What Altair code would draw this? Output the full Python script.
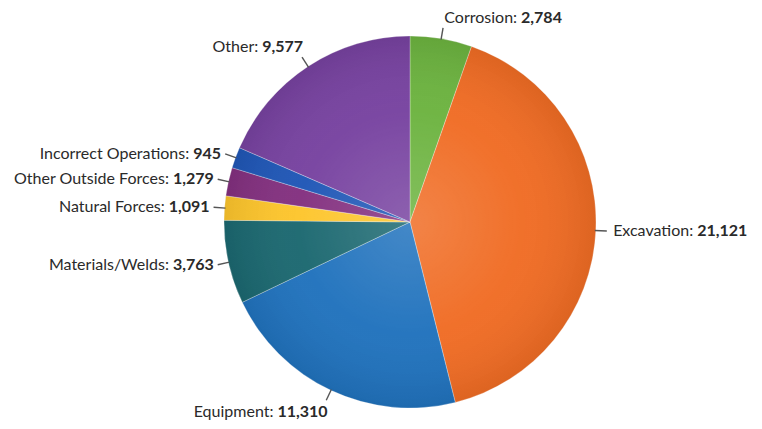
import altair as alt
import pandas as pd

causes = ["Corrosion", "Excavation", "Equipment", "Materials/Welds",
          "Natural Forces", "Other Outside Forces", "Incorrect Operations", "Other"]
counts = [2784, 21121, 11310, 3763, 1091, 1279, 945, 9577]
colors = ["#6cb33f", "#f06c24", "#2072bd", "#1b6870",
          "#fdc52c", "#83307f", "#1f56b6", "#7742a0"]

df = pd.DataFrame({"cause": causes, "count": counts, "idx": list(range(len(causes)))})

CX, CY, R = 402, 214, 186
FONT = "Lato"
FS = 16
CW = 7.4   # approx avg char width of regular label text
DW = 9.0   # approx bold digit width
GAP = 4

base = alt.Chart(df).transform_joinaggregate(
    total="sum(count)"
).transform_window(
    cum="sum(count)", sort=[alt.SortField("idx")], frame=[None, 0]
).transform_calculate(
    mid="2*PI*(datum.cum - datum.count/2)/datum.total"
).transform_calculate(
    s="sin(datum.mid)", c="cos(datum.mid)"
).transform_calculate(
    lx1=f"{CX} + {R - 1}*datum.s", ly1=f"{CY} - {R - 1}*datum.c",
    lx2=f"{CX} + {R + 11}*datum.s", ly2=f"{CY} - {R + 11}*datum.c",
    vert="datum.c > 0.8 ? -1 : (datum.c < -0.8 ? 1 : 0)",
    side="datum.s >= 0 ? 1 : -1",
    namestr="datum.cause + ':'",
    valstr="format(datum.count, ',')",
).transform_calculate(
    tx="datum.lx2 + (datum.vert == 0 ? datum.side*5 : 0)",
    ty="datum.ly2 + (datum.vert < 0 ? -10 : datum.vert*12)",
    nameW=f"length(datum.namestr)*{CW}",
    valW=f"length(datum.valstr)*{DW} - (indexof(datum.valstr, ',') >= 0 ? {DW - 3.8} : 0)",
).transform_calculate(
    jx=f"datum.side > 0 ? datum.tx + datum.nameW : datum.tx - datum.valW - {GAP}",
).transform_calculate(
    vx=f"datum.jx + {GAP}"
)

pie = alt.Chart(df).mark_arc(radius=R, stroke="#ffffff", strokeWidth=0.3).encode(
    theta=alt.Theta("count:Q", stack=True),
    order=alt.Order("idx:Q"),
    color=alt.Color("cause:N", scale=alt.Scale(domain=causes, range=colors), legend=None),
    x=alt.value(CX), y=alt.value(CY),
)

shade_df = pd.DataFrame({"k": [1]})
shade = alt.Chart(shade_df).mark_arc(
    radius=R, theta=0, theta2=6.2832,
    fill=alt.RadialGradient(
        gradient="radial", x1=0.5, y1=0.5, x2=0.5, y2=0.5, r1=0, r2=0.5,
        stops=[alt.GradientStop(color="rgba(255,255,255,0.16)", offset=0),
               alt.GradientStop(color="rgba(255,255,255,0.03)", offset=0.6),
               alt.GradientStop(color="rgba(0,0,0,0.08)", offset=1)],
    ),
).encode(x=alt.value(CX), y=alt.value(CY))

leaders = base.mark_rule(color="#555555", strokeWidth=1.4).encode(
    x=alt.X("lx1:Q", scale=None, axis=None), x2="lx2:Q",
    y=alt.Y("ly1:Q", scale=None, axis=None), y2="ly2:Q",
)

names = base.mark_text(align="right", baseline="middle", font=FONT, fontSize=FS,
                       color="#2a2a2a").encode(
    x=alt.X("jx:Q", scale=None, axis=None),
    y=alt.Y("ty:Q", scale=None, axis=None),
    text="namestr:N",
)

vals = base.mark_text(align="left", baseline="middle", font=FONT, fontSize=FS,
                      fontWeight="bold", color="#2a2a2a").encode(
    x=alt.X("vx:Q", scale=None, axis=None),
    y=alt.Y("ty:Q", scale=None, axis=None),
    text="valstr:N",
)

chart = alt.layer(pie, shade, leaders, names, vals).properties(
    width=746, height=413, autosize=alt.AutoSizeParams(type="none"), padding=0
).configure_view(stroke=None)

chart.save("out.html", embed_options={"renderer": "svg", "actions": False})
